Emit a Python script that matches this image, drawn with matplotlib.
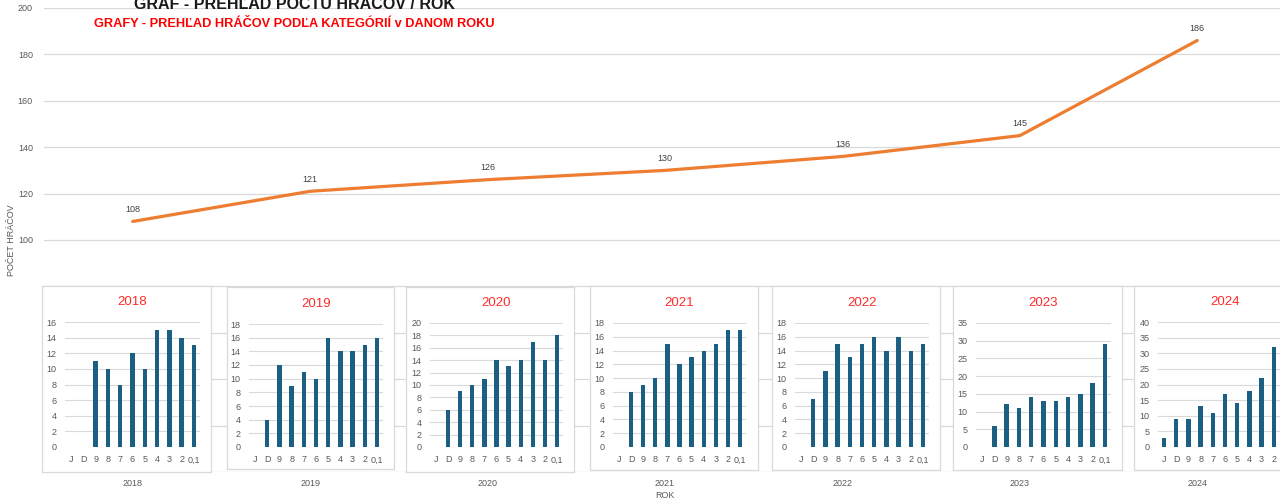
import matplotlib
matplotlib.use("Agg")
import matplotlib.pyplot as plt
from matplotlib import font_manager

# ---------------- data ----------------
YEARS = ["2018", "2019", "2020", "2021", "2022", "2023", "2024"]
TOTALS = [108, 121, 126, 130, 136, 145, 186]

CATEGORIES = ["J", "D", "9", "8", "7", "6", "5", "4", "3", "2", "0,1"]
CAT_2018 = [0, 0, 11, 10, 8, 12, 10, 15, 15, 14, 13]
CAT_2019 = [0, 4, 12, 9, 11, 10, 16, 14, 14, 15, 16]
CAT_2020 = [0, 6, 9, 10, 11, 14, 13, 14, 17, 14, 18]
CAT_2021 = [0, 8, 9, 10, 15, 12, 13, 14, 15, 17, 17]
CAT_2022 = [0, 7, 11, 15, 13, 15, 16, 14, 16, 14, 15]
CAT_2023 = [0, 6, 12, 11, 14, 13, 13, 14, 15, 18, 29]
CAT_2024 = [3, 9, 9, 13, 11, 17, 14, 18, 22, 32, 38]
PER_YEAR = [CAT_2018, CAT_2019, CAT_2020, CAT_2021, CAT_2022, CAT_2023, CAT_2024]

# axis maxima / steps of the small charts
Y_MAX = [16, 18, 20, 18, 18, 35, 40]
Y_STEP = [2, 2, 2, 2, 2, 5, 5]

# ---------------- layout (pixels, 1280x500) ----------------
W, H = 1280, 500
BOXES = [(42, 286, 211, 472), (227, 287, 394, 469), (406, 287, 574, 472),
         (590, 286, 758, 470), (772, 286, 940, 470), (953, 286, 1122, 470),
         (1134, 286, 1310, 470)]
PLOTS = [(65, 322, 200, 447), (249, 324, 383, 447), (430, 323, 563, 447),
         (613, 323, 746, 447), (795, 323, 929, 447), (976, 323, 1111, 447),
         (1158, 322, 1292, 447)]

installed = {f.name for f in font_manager.fontManager.ttflist}
NARROW = ["Liberation Sans Narrow" if "Liberation Sans Narrow" in installed else "Liberation Sans",
          "DejaVu Sans"]
GRID = "#D9D9D9"
TXT = "#595959"
ORANGE = "#ED7D31"
BAR = "#1B5F83"
RED = "#FF2B2B"


def rect(x0, y0, x1, y1):
    return [x0 / W, 1 - y1 / H, (x1 - x0) / W, (y1 - y0) / H]


fig = plt.figure(figsize=(12.8, 5), dpi=100)
fig.patch.set_facecolor("white")

# ---------------- main line chart ----------------
ax = fig.add_axes(rect(44, 8, 1286, 472))
x = list(range(len(YEARS)))
ax.plot(x, TOTALS, color=ORANGE, lw=2.3, solid_capstyle="round", zorder=3)
for xi, v in zip(x, TOTALS):
    ax.annotate(str(v), (xi, v), xytext=(0, 8.6), textcoords="offset points",
                ha="center", va="center", fontsize=6.5, color="#404040", family=NARROW)
ax.set_xlim(-0.5, len(YEARS) - 0.5)
ax.set_ylim(0, 200)
ticks = list(range(0, 201, 20))
ax.set_yticks(ticks)
ax.set_yticklabels([str(t) if t >= 100 else "" for t in ticks])
ax.set_xticks(x)
ax.set_xticklabels(YEARS)
ax.grid(axis="y", color=GRID, lw=0.9)
ax.set_axisbelow(True)
for s in ax.spines.values():
    s.set_visible(False)
ax.tick_params(axis="both", length=0, colors=TXT, labelsize=6.5)
ax.tick_params(axis="y", pad=8)
ax.tick_params(axis="x", pad=5)
for lab in ax.get_xticklabels() + ax.get_yticklabels():
    lab.set_family(NARROW)

fig.text(12 / W, 1 - 240 / H, "POČET HRÁČOV", rotation=90, ha="center", va="center",
         fontsize=6.5, color=TXT, family=NARROW)
fig.text(665 / W, 1 - 495 / H, "ROK", ha="center", va="center",
         fontsize=6.5, color=TXT, family=NARROW)

fig.text(294 / W, 1 - 9 / H, "GRAF - PREHĽAD POČTU HRÁČOV / ROK", ha="center",
         va="baseline", fontsize=11.5, fontweight="bold", color="#1a1a1a", family=NARROW)
fig.text(294 / W, 1 - 24 / H, "GRAFY - PREHĽAD HRÁČOV PODĽA KATEGÓRIÍ v DANOM ROKU",
         ha="center", va="center", fontsize=9.2, fontweight="bold", color="#FF0000",
         family=NARROW)

# ---------------- small per-year charts ----------------
for year, vals, ymax, step, box, pl in zip(YEARS, PER_YEAR, Y_MAX, Y_STEP, BOXES, PLOTS):
    bx = fig.add_axes(rect(*box))
    bx.set_facecolor("white")
    bx.set_xticks([])
    bx.set_yticks([])
    for s in bx.spines.values():
        s.set_color(GRID)
        s.set_linewidth(0.9)
    title_y = 1 - (pl[1] - 20 - box[1]) / (box[3] - box[1])
    title_x = ((pl[0] + pl[2]) / 2 - box[0]) / (box[2] - box[0])
    bx.text(title_x, title_y, year, transform=bx.transAxes, ha="center", va="center",
            fontsize=9.5, color=RED, family=["Liberation Sans", "DejaVu Sans"])

    sx = fig.add_axes(rect(*pl))
    sx.patch.set_alpha(0)
    cx = list(range(len(CATEGORIES)))
    sx.bar(cx, vals, width=0.36, color=BAR, zorder=3)
    sx.set_xlim(-0.5, len(CATEGORIES) - 0.5)
    sx.set_ylim(0, ymax)
    sx.set_yticks(list(range(0, ymax + 1, step)))
    sx.set_xticks(cx)
    sx.set_xticklabels(CATEGORIES)
    sx.grid(axis="y", color=GRID, lw=0.8)
    sx.set_axisbelow(True)
    for s in sx.spines.values():
        s.set_visible(False)
    sx.tick_params(axis="both", length=0, colors=TXT, labelsize=6.5)
    sx.tick_params(axis="y", pad=6)
    sx.tick_params(axis="x", pad=6)
    for lab in sx.get_xticklabels() + sx.get_yticklabels():
        lab.set_family(NARROW)

fig.savefig("out.png", dpi=100, facecolor="white")
